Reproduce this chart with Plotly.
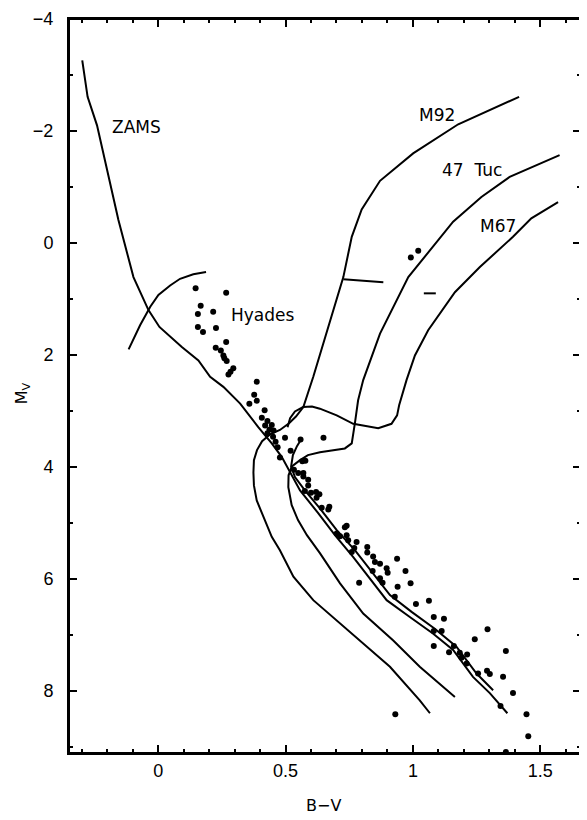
import plotly.graph_objects as go

# ---------------- data (B-V, M_V) ----------------
zams_bv = [-0.298, -0.277, -0.240, -0.201, -0.156, -0.097, -0.038, 0.005, 0.093, 0.158, 0.204,
           0.256, 0.322, 0.393, 0.446, 0.485, 0.524, 0.557, 0.629, 0.694, 0.766, 0.897, 0.988,
           1.080, 1.158, 1.236, 1.302, 1.371]
zams_mv = [-3.26, -2.61, -2.10, -1.30, -0.41, 0.61, 1.20, 1.50, 1.86, 2.10, 2.39,
           2.57, 2.87, 3.29, 3.58, 3.82, 4.15, 4.42, 4.83, 5.22, 5.61, 6.38, 6.68,
           6.98, 7.27, 7.75, 8.04, 8.40]

hyades_iso_bv = [-0.116, -0.071, -0.031, 0.001, 0.047, 0.086, 0.138, 0.188]
hyades_iso_mv = [1.90, 1.47, 1.14, 0.93, 0.76, 0.64, 0.56, 0.52]

m92_bv = [1.417, 1.178, 1.001, 0.871, 0.799, 0.760, 0.727, 0.609, 0.570, 0.541, 0.514, 0.478,
          0.439, 0.408, 0.388, 0.376, 0.374, 0.376, 0.387, 0.413, 0.446, 0.478, 0.531, 0.609,
          0.714, 0.805, 0.910, 1.027, 1.067]
m92_mv = [-2.61, -2.12, -1.60, -1.11, -0.60, -0.11, 0.61, 2.39, 2.93, 3.10, 3.22, 3.34,
          3.42, 3.54, 3.70, 3.88, 4.10, 4.33, 4.60, 4.89, 5.25, 5.49, 5.96, 6.38,
          6.80, 7.15, 7.57, 8.17, 8.40]

tuc47_bv = [1.576, 1.380, 1.269, 1.158, 0.982, 0.871, 0.805, 0.785, 0.773, 0.766, 0.760, 0.733,
            0.635, 0.588, 0.557, 0.525, 0.512, 0.511, 0.524, 0.549, 0.584, 0.635, 0.714, 0.805,
            0.923, 1.027, 1.165]
tuc47_mv = [-1.57, -1.18, -0.82, -0.38, 0.61, 1.62, 2.45, 2.81, 3.20, 3.43, 3.58, 3.67,
            3.74, 3.79, 3.88, 3.99, 4.15, 4.36, 4.68, 4.95, 5.22, 5.54, 6.08, 6.62,
            7.10, 7.57, 8.11]

m67_ms_bv = [0.561, 0.545, 0.529, 0.522, 0.537, 0.576, 0.635, 0.701, 0.773, 0.910, 0.995,
             1.086, 1.171, 1.250, 1.315]
m67_ms_mv = [3.51, 3.63, 3.79, 3.99, 4.18, 4.42, 4.74, 5.13, 5.49, 6.29, 6.59,
             6.89, 7.21, 7.69, 7.99]

m67_rgb_bv = [0.508, 0.518, 0.537, 0.569, 0.604, 0.635, 0.701, 0.766, 0.864, 0.916, 0.938, 0.946,
              0.975, 1.008, 1.060, 1.165, 1.263, 1.393, 1.465, 1.570]
m67_rgb_mv = [3.29, 3.13, 3.01, 2.93, 2.92, 2.96, 3.08, 3.23, 3.31, 3.23, 3.08, 2.90,
              2.45, 2.01, 1.56, 0.88, 0.43, -0.11, -0.44, -0.73]

m92_hb_bv = [0.727, 0.884]
m92_hb_mv = [0.65, 0.70]
tuc47_hb_bv = [1.043, 1.090]
tuc47_hb_mv = [0.90, 0.90]

stars_bv = [0.147, 0.267, 0.167, 0.216, 0.156, 0.156, 0.176, 0.227, 0.267, 0.226, 0.246, 0.256,
            0.260, 0.269, 0.295, 0.284, 0.276, 0.387, 0.377, 0.387, 0.358, 0.418, 0.407, 0.429,
            0.420, 0.446, 0.437, 0.453, 0.429, 0.451, 0.498, 0.461, 0.469, 0.520, 0.478, 0.559,
            0.649, 0.566, 0.578, 0.533, 0.550, 0.570, 0.570, 0.589, 0.589, 0.576, 0.600, 0.620,
            0.622, 0.633, 0.642, 0.672, 0.668, 0.733, 0.740, 0.701, 0.714, 0.740, 0.746, 0.779,
            0.770, 0.760, 0.821, 0.821, 0.844, 0.851, 0.871, 0.842, 0.897, 0.901, 0.938, 0.871,
            0.881, 0.789, 0.940, 0.971, 0.991, 0.929, 1.012, 1.063, 1.082, 1.122, 1.082, 1.113,
            1.082, 1.161, 1.142, 1.184, 1.213, 1.191, 1.211, 1.243, 1.256, 1.293, 1.291, 1.302,
            1.354, 1.365, 1.344, 1.393, 1.446, 1.453, 1.365, 0.931, 0.992, 1.021]
stars_mv = [0.81, 0.89, 1.12, 1.23, 1.27, 1.50, 1.59, 1.52, 1.77, 1.87, 1.92, 2.01,
            2.06, 2.11, 2.24, 2.30, 2.35, 2.48, 2.71, 2.82, 2.87, 2.99, 3.12, 3.18,
            3.26, 3.25, 3.33, 3.35, 3.40, 3.46, 3.48, 3.55, 3.65, 3.71, 3.83, 3.51,
            3.48, 3.90, 3.89, 4.05, 4.11, 4.11, 4.17, 4.23, 4.33, 4.43, 4.46, 4.45,
            4.55, 4.49, 4.73, 4.71, 4.76, 5.08, 5.05, 5.19, 5.24, 5.22, 5.31, 5.34,
            5.45, 5.52, 5.43, 5.53, 5.60, 5.70, 5.73, 5.86, 5.81, 5.89, 5.64, 5.99,
            6.07, 6.07, 6.14, 5.86, 6.08, 6.32, 6.45, 6.39, 6.68, 6.71, 6.93, 6.93,
            7.20, 7.20, 7.31, 7.32, 7.35, 7.41, 7.51, 7.08, 7.69, 6.90, 7.64, 7.70,
            7.75, 7.29, 8.27, 8.04, 8.42, 8.81, 9.09, 8.42, 0.26, 0.14]

labels = ["ZAMS", "M92", "47  Tuc", "M67", "Hyades"]
label_bv = [-0.19, 1.015, 1.106, 1.256, 0.280]
label_mv = [-2.08, -2.29, -1.30, -0.30, 1.29]

x_range = [-0.35, 1.66]
y_range = [9.11, -4]

# ---------------- figure ----------------
fig = go.Figure()
line_style = dict(color="black", width=2)
for xs, ys in [(zams_bv, zams_mv), (hyades_iso_bv, hyades_iso_mv), (m92_bv, m92_mv),
               (tuc47_bv, tuc47_mv), (m67_ms_bv, m67_ms_mv), (m67_rgb_bv, m67_rgb_mv),
               (m92_hb_bv, m92_hb_mv), (tuc47_hb_bv, tuc47_hb_mv)]:
    fig.add_trace(go.Scatter(x=xs, y=ys, mode="lines", line=line_style,
                             hoverinfo="skip", showlegend=False))

fig.add_trace(go.Scatter(x=stars_bv, y=stars_mv, mode="markers",
                         marker=dict(color="black", size=6, line=dict(width=0)),
                         showlegend=False))

# invisible copy on the overlay axes that carry the minor ticks
fig.add_trace(go.Scatter(x=stars_bv, y=stars_mv, mode="markers", xaxis="x2", yaxis="y2",
                         marker=dict(color="rgba(0,0,0,0)", size=1), hoverinfo="skip",
                         showlegend=False))

for t, xv, yv in zip(labels, label_bv, label_mv):
    fig.add_annotation(x=xv, y=yv, text=t, showarrow=False, xanchor="left", yanchor="middle",
                       font=dict(family="DejaVu Sans", size=17, color="black"))

fig.add_annotation(xref="paper", yref="paper", x=0.498, y=-0.072, text="B\u2212V",
                   xanchor="center", yanchor="middle", showarrow=False,
                   font=dict(family="DejaVu Sans", size=16, color="black"))
fig.add_annotation(xref="paper", yref="paper", x=-0.092, y=0.49, text="M<sub>V</sub>",
                   xanchor="center", yanchor="middle", textangle=-90, showarrow=False,
                   font=dict(family="DejaVu Sans", size=16, color="black"))

# frame around the plotting area
fig.add_shape(type="rect", xref="paper", yref="paper", x0=0, y0=0, x1=1, y1=1,
              line=dict(color="black", width=2), layer="above")

tick_font = dict(family="Liberation Sans", size=18, color="black")

# The page body has an 8px margin; the figure is sized so the page does not overflow
# the 587x820 window (no scrollbars), and margins place the frame as in the reference.
fig.update_layout(
    width=578, height=812, plot_bgcolor="white", paper_bgcolor="white",
    margin=dict(l=61, r=5, t=11, b=67), showlegend=False,
    xaxis=dict(range=x_range, tickmode="linear", tick0=0, dtick=0.5,
               showgrid=False, zeroline=False, showline=True, linecolor="black", linewidth=2,
               mirror="ticks", ticks="inside", ticklen=8, tickwidth=2, tickcolor="black",
               automargin=False, tickfont=tick_font),
    yaxis=dict(range=y_range, tickmode="linear", tick0=0, dtick=2,
               showgrid=False, zeroline=False, showline=True, linecolor="black", linewidth=2,
               mirror="ticks", ticks="inside", ticklen=8, tickwidth=2, tickcolor="black",
               automargin=False, tickfont=tick_font, ticksuffix="\u00a0\u00a0"),
    xaxis2=dict(range=x_range, overlaying="x", anchor="y", side="bottom",
                tickmode="linear", tick0=0, dtick=0.1, showticklabels=False,
                showgrid=False, zeroline=False, showline=False, mirror="ticks",
                ticks="inside", ticklen=4, tickwidth=2, tickcolor="black",
                automargin=False),
    yaxis2=dict(range=y_range, overlaying="y", anchor="x", side="left",
                tickmode="linear", tick0=0, dtick=1, showticklabels=False,
                showgrid=False, zeroline=False, showline=False, mirror="ticks",
                ticks="inside", ticklen=4, tickwidth=2, tickcolor="black",
                automargin=False),
)

fig.write_html("out.html")
